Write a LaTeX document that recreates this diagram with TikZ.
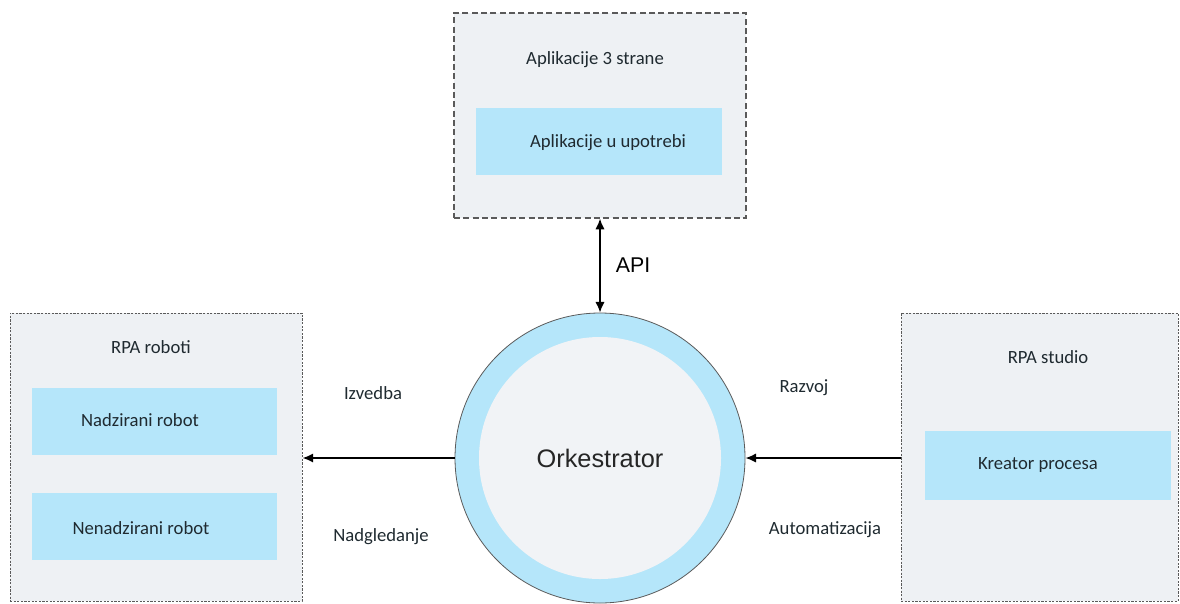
\documentclass[tikz,border=0pt]{standalone}
\usepackage{fontspec}
\setmainfont{Carlito}
\newfontfamily\arialf{Liberation Sans}
\usetikzlibrary{arrows.meta,fit}
\definecolor{boxgray}{HTML}{EEF1F4}
\definecolor{lblue}{HTML}{B5E6FA}
\definecolor{innergray}{HTML}{F1F3F6}
\definecolor{dashgray}{HTML}{5A5A5A}
\definecolor{txt}{HTML}{1F2A30}
\begin{document}
\begin{tikzpicture}[x=0.75pt,y=-0.75pt,
  bigbox/.style={fill=boxgray,draw=dashgray,inner sep=0pt},
  topdash/.style={dash pattern=on 4.5pt off 2.5pt,line width=0.9pt},
  sidedash/.style={dash pattern=on 1.6pt off 1.1pt,line width=0.7pt},
  bluebox/.style={fill=lblue,inner sep=0pt},
  lbl/.style={font=\fontsize{14}{16}\selectfont,text=txt,inner sep=0pt},
  arr/.style={line width=1.3pt,-{Latex[length=8pt,width=7pt]}},
  darr/.style={line width=1.3pt,{Latex[length=8pt,width=7pt]}-{Latex[length=8pt,width=7pt]}}]
\useasboundingbox (0,0) rectangle (1180,603);
% top box
\node[bigbox,topdash,fit={(454,13) (746,218)}] (top) {};
\node[bluebox,fit={(476,108) (722,175)}] (inuse) {};
\node[lbl] (toptitle) at (595,60) {Aplikacije 3 strane};
\node[lbl] (inusetxt) at (608,143) {Aplikacije u upotrebi};
% left box
\node[bigbox,sidedash,fit={(10,313) (302,601)}] (left) {};
\node[bluebox,fit={(32,388) (277,455)}] (sup) {};
\node[bluebox,fit={(32,493) (277,560)}] (unsup) {};
\node[lbl] (lefttitle) at (151,347) {RPA roboti};
\node[lbl] (suptxt) at (140,420) {Nadzirani robot};
\node[lbl] (unsuptxt) at (141,528) {Nenadzirani robot};
% right box
\node[bigbox,sidedash,fit={(901,313) (1178,601)}] (right) {};
\node[bluebox,fit={(925,431) (1171,500)}] (creator) {};
\node[lbl] (righttitle) at (1048,357) {RPA studio};
\node[lbl] (creatortxt) at (1038,465) {Kreator procesa};
% orchestrator
\node[circle,fill=lblue,draw=dashgray,line width=0.6pt,minimum size=217.5pt,inner sep=0pt] (orch) at (600,458) {};
\node[circle,fill=innergray,minimum size=181.5pt,inner sep=0pt] (orchin) at (orch.center) {};
\node[font=\arialf\fontsize{19}{22}\selectfont,text=black!85] (orchtxt) at (orch.center) {Orkestrator};
% connectors
\draw[darr] (top.south) -- (orch.north);
\draw[arr] (orch.west) -- (orch.west -| left.east);
\draw[arr] (orch.east -| right.west) -- (orch.east);
% labels
\node[font=\arialf\fontsize{16}{18}\selectfont,inner sep=0pt] (api) at (633,265) {API};
\node[lbl] (izv) at (373,393) {Izvedba};
\node[lbl] (nadg) at (381,537) {Nadgledanje};
\node[lbl] (razv) at (804,388) {Razvoj};
\node[lbl] (auto) at (825,530) {Automatizacija};
\end{tikzpicture}
\end{document}
